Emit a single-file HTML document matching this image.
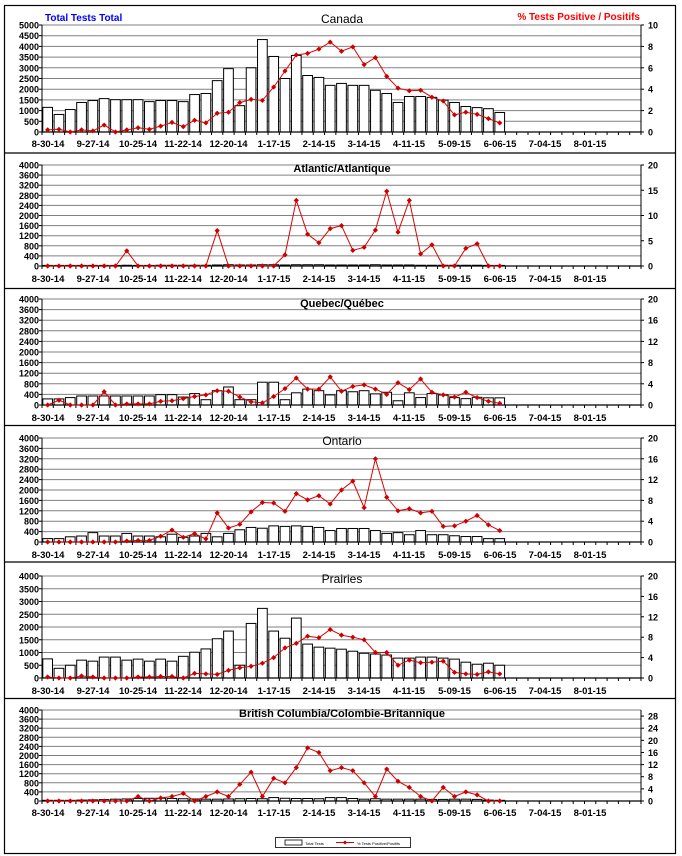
<!DOCTYPE html>
<html><head><meta charset="utf-8"><style>
html,body{margin:0;padding:0;background:#fff}
svg{display:block}
text{font-family:"Liberation Sans",Arial,sans-serif}
.yl{font-size:9px;font-weight:bold;text-anchor:end}
.yr{font-size:9px;font-weight:bold;text-anchor:start}
.xl{font-size:9.5px;font-weight:bold;text-anchor:middle}
.tt{font-size:12px;text-anchor:middle}
</style></head><body>
<svg id="s" width="682" height="856" viewBox="0 0 682 856" xmlns="http://www.w3.org/2000/svg">
<rect x="4.5" y="5.5" width="671" height="848" fill="#fff" stroke="#000" stroke-width="1.2"/>
<g stroke="#000" stroke-width="1.2">
<line x1="4" y1="153" x2="676" y2="153"/><line x1="4" y1="288.5" x2="676" y2="288.5"/>
<line x1="4" y1="425.5" x2="676" y2="425.5"/><line x1="4" y1="562" x2="676" y2="562"/>
<line x1="4" y1="698.5" x2="676" y2="698.5"/></g>
<g id="plots"></g>

<text x="45" y="21" style="font-size:10px;font-weight:bold" fill="#0000ff">Total Tests Total</text>
<text x="640" y="20" style="font-size:10px;font-weight:bold;text-anchor:end" fill="#ff0000">% Tests Positive / Positifs</text>
<text class="tt" x="342" y="23">Canada</text>
<text class="tt" x="342" y="172" style="font-weight:bold;font-size:11px">Atlantic/Atlantique</text>
<text class="tt" x="342" y="307" style="font-weight:bold;font-size:11px">Quebec/Québec</text>
<text class="tt" x="342" y="445">Ontario</text>
<text class="tt" x="342" y="583">Prairies</text>
<text class="tt" x="342" y="717" style="font-weight:bold;font-size:11px">British Columbia/Colombie-Britannique</text>

<!-- Canada y labels -->
<g class="yl">
<text class="yl" x="39" y="135.5">0</text><text class="yl" x="39" y="124.8">500</text><text class="yl" x="39" y="114.1">1000</text><text class="yl" x="39" y="103.4">1500</text><text class="yl" x="39" y="92.7">2000</text><text class="yl" x="39" y="82">2500</text><text class="yl" x="39" y="71.3">3000</text><text class="yl" x="39" y="60.6">3500</text><text class="yl" x="39" y="49.9">4000</text><text class="yl" x="39" y="39.2">4500</text><text class="yl" x="39" y="28.5">5000</text>
<text class="yr" x="648" y="135.5">0</text><text class="yr" x="648" y="114.1">2</text><text class="yr" x="648" y="92.7">4</text><text class="yr" x="648" y="71.3">6</text><text class="yr" x="648" y="49.9">8</text><text class="yr" x="648" y="28.5">10</text>
<!-- Atlantic -->
<text class="yl" x="39" y="269.5">0</text><text class="yl" x="39" y="259.4">400</text><text class="yl" x="39" y="249.3">800</text><text class="yl" x="39" y="239.2">1200</text><text class="yl" x="39" y="229.1">1600</text><text class="yl" x="39" y="219">2000</text><text class="yl" x="39" y="208.9">2400</text><text class="yl" x="39" y="198.8">2800</text><text class="yl" x="39" y="188.7">3200</text><text class="yl" x="39" y="178.6">3600</text><text class="yl" x="39" y="168.5">4000</text>
<text class="yr" x="648" y="269.5">0</text><text class="yr" x="648" y="244.25">5</text><text class="yr" x="648" y="219">10</text><text class="yr" x="648" y="193.75">15</text><text class="yr" x="648" y="168.5">20</text>
<!-- Quebec -->
<text class="yl" x="39" y="408.5">0</text><text class="yl" x="39" y="397.9">400</text><text class="yl" x="39" y="387.3">800</text><text class="yl" x="39" y="376.7">1200</text><text class="yl" x="39" y="366.1">1600</text><text class="yl" x="39" y="355.5">2000</text><text class="yl" x="39" y="344.9">2400</text><text class="yl" x="39" y="334.3">2800</text><text class="yl" x="39" y="323.7">3200</text><text class="yl" x="39" y="313.1">3600</text><text class="yl" x="39" y="302.5">4000</text>
<text class="yr" x="648" y="408.5">0</text><text class="yr" x="648" y="387.3">4</text><text class="yr" x="648" y="366.1">8</text><text class="yr" x="648" y="344.9">12</text><text class="yr" x="648" y="323.7">16</text><text class="yr" x="648" y="302.5">20</text>
<!-- Ontario -->
<text class="yl" x="39" y="545.5">0</text><text class="yl" x="39" y="535.1">400</text><text class="yl" x="39" y="524.7">800</text><text class="yl" x="39" y="514.3">1200</text><text class="yl" x="39" y="503.9">1600</text><text class="yl" x="39" y="493.5">2000</text><text class="yl" x="39" y="483.1">2400</text><text class="yl" x="39" y="472.7">2800</text><text class="yl" x="39" y="462.3">3200</text><text class="yl" x="39" y="451.9">3600</text><text class="yl" x="39" y="441.5">4000</text>
<text class="yr" x="648" y="545.5">0</text><text class="yr" x="648" y="524.7">4</text><text class="yr" x="648" y="503.9">8</text><text class="yr" x="648" y="483.1">12</text><text class="yr" x="648" y="462.3">16</text><text class="yr" x="648" y="441.5">20</text>
<!-- Prairies -->
<text class="yl" x="39" y="681.5">0</text><text class="yl" x="39" y="668.75">500</text><text class="yl" x="39" y="656">1000</text><text class="yl" x="39" y="643.25">1500</text><text class="yl" x="39" y="630.5">2000</text><text class="yl" x="39" y="617.75">2500</text><text class="yl" x="39" y="605">3000</text><text class="yl" x="39" y="592.25">3500</text><text class="yl" x="39" y="579.5">4000</text>
<text class="yr" x="648" y="681.5">0</text><text class="yr" x="648" y="661.1">4</text><text class="yr" x="648" y="640.7">8</text><text class="yr" x="648" y="620.3">12</text><text class="yr" x="648" y="599.9">16</text><text class="yr" x="648" y="579.5">20</text>
<!-- BC -->
<text class="yl" x="39" y="804.5">0</text><text class="yl" x="39" y="795.4">400</text><text class="yl" x="39" y="786.3">800</text><text class="yl" x="39" y="777.2">1200</text><text class="yl" x="39" y="768.1">1600</text><text class="yl" x="39" y="759">2000</text><text class="yl" x="39" y="749.9">2400</text><text class="yl" x="39" y="740.8">2800</text><text class="yl" x="39" y="731.7">3200</text><text class="yl" x="39" y="722.6">3600</text><text class="yl" x="39" y="713.5">4000</text>
<text class="yr" x="648" y="804.5">0</text><text class="yr" x="648" y="792.4">4</text><text class="yr" x="648" y="780.2">8</text><text class="yr" x="648" y="768.1">12</text><text class="yr" x="648" y="756">16</text><text class="yr" x="648" y="743.8">20</text><text class="yr" x="648" y="731.7">24</text><text class="yr" x="648" y="719.6">28</text>
</g>

<!-- x labels -->
<g class="xl">
<text class="xl" x="48" y="147">8-30-14</text><text class="xl" x="93" y="147">9-27-14</text><text class="xl" x="138" y="147">10-25-14</text><text class="xl" x="183" y="147">11-22-14</text><text class="xl" x="228.5" y="147">12-20-14</text><text class="xl" x="274" y="147">1-17-15</text><text class="xl" x="319" y="147">2-14-15</text><text class="xl" x="364" y="147">3-14-15</text><text class="xl" x="409" y="147">4-11-15</text><text class="xl" x="454.5" y="147">5-09-15</text><text class="xl" x="500" y="147">6-06-15</text><text class="xl" x="545" y="147">7-04-15</text><text class="xl" x="590" y="147">8-01-15</text>
<text class="xl" x="48" y="282">8-30-14</text><text class="xl" x="93" y="282">9-27-14</text><text class="xl" x="138" y="282">10-25-14</text><text class="xl" x="183" y="282">11-22-14</text><text class="xl" x="228.5" y="282">12-20-14</text><text class="xl" x="274" y="282">1-17-15</text><text class="xl" x="319" y="282">2-14-15</text><text class="xl" x="364" y="282">3-14-15</text><text class="xl" x="409" y="282">4-11-15</text><text class="xl" x="454.5" y="282">5-09-15</text><text class="xl" x="500" y="282">6-06-15</text><text class="xl" x="545" y="282">7-04-15</text><text class="xl" x="590" y="282">8-01-15</text>
<text class="xl" x="48" y="421">8-30-14</text><text class="xl" x="93" y="421">9-27-14</text><text class="xl" x="138" y="421">10-25-14</text><text class="xl" x="183" y="421">11-22-14</text><text class="xl" x="228.5" y="421">12-20-14</text><text class="xl" x="274" y="421">1-17-15</text><text class="xl" x="319" y="421">2-14-15</text><text class="xl" x="364" y="421">3-14-15</text><text class="xl" x="409" y="421">4-11-15</text><text class="xl" x="454.5" y="421">5-09-15</text><text class="xl" x="500" y="421">6-06-15</text><text class="xl" x="545" y="421">7-04-15</text><text class="xl" x="590" y="421">8-01-15</text>
<text class="xl" x="48" y="558">8-30-14</text><text class="xl" x="93" y="558">9-27-14</text><text class="xl" x="138" y="558">10-25-14</text><text class="xl" x="183" y="558">11-22-14</text><text class="xl" x="228.5" y="558">12-20-14</text><text class="xl" x="274" y="558">1-17-15</text><text class="xl" x="319" y="558">2-14-15</text><text class="xl" x="364" y="558">3-14-15</text><text class="xl" x="409" y="558">4-11-15</text><text class="xl" x="454.5" y="558">5-09-15</text><text class="xl" x="500" y="558">6-06-15</text><text class="xl" x="545" y="558">7-04-15</text><text class="xl" x="590" y="558">8-01-15</text>
<text class="xl" x="48" y="694">8-30-14</text><text class="xl" x="93" y="694">9-27-14</text><text class="xl" x="138" y="694">10-25-14</text><text class="xl" x="183" y="694">11-22-14</text><text class="xl" x="228.5" y="694">12-20-14</text><text class="xl" x="274" y="694">1-17-15</text><text class="xl" x="319" y="694">2-14-15</text><text class="xl" x="364" y="694">3-14-15</text><text class="xl" x="409" y="694">4-11-15</text><text class="xl" x="454.5" y="694">5-09-15</text><text class="xl" x="500" y="694">6-06-15</text><text class="xl" x="545" y="694">7-04-15</text><text class="xl" x="590" y="694">8-01-15</text>
<text class="xl" x="48" y="816">8-30-14</text><text class="xl" x="93" y="816">9-27-14</text><text class="xl" x="138" y="816">10-25-14</text><text class="xl" x="183" y="816">11-22-14</text><text class="xl" x="228.5" y="816">12-20-14</text><text class="xl" x="274" y="816">1-17-15</text><text class="xl" x="319" y="816">2-14-15</text><text class="xl" x="364" y="816">3-14-15</text><text class="xl" x="409" y="816">4-11-15</text><text class="xl" x="454.5" y="816">5-09-15</text><text class="xl" x="500" y="816">6-06-15</text><text class="xl" x="545" y="816">7-04-15</text><text class="xl" x="590" y="816">8-01-15</text>
</g>

<!-- legend -->
<rect x="275.5" y="837.5" width="135" height="10" fill="#fff" stroke="#000" stroke-width="0.8"/>
<rect x="285" y="840" width="17" height="5" fill="#fff" stroke="#000" stroke-width="0.8"/>
<text x="305" y="845" style="font-size:4px">Total Tests</text>
<line x1="336" y1="842.5" x2="354" y2="842.5" stroke="#d00" stroke-width="1"/>
<rect x="343.5" y="841" width="3" height="3" fill="#c00" transform="rotate(45 345 842.5)"/>
<text x="357" y="845" style="font-size:4px">% Tests Positive/Positifs</text>
</svg>
<script>
(function(){
var NS="http://www.w3.org/2000/svg",G=document.getElementById("plots");
function el(n,a){var e=document.createElementNS(NS,n);for(var k in a)e.setAttribute(k,a[k]);G.appendChild(e);return e;}
var L=42,R=641,N=53,W=(R-L)/N;
function panel(top,bot,lmax,lstep,rmax,rstep,bars,line){
 var h=bot-top;
 for(var v=lstep;v<=lmax+0.01;v+=lstep){var y=bot-v/lmax*h;el("line",{x1:L,x2:R,y1:y,y2:y,stroke:"#808080","stroke-width":1});}
 for(var i=0;i<bars.length;i++){var bh=bars[i]/lmax*h;if(bh<0.6)bh=0.6;
  el("rect",{x:L+i*W+0.8,y:bot-bh,width:W-1.6,height:bh,fill:"#fff",stroke:"#000","stroke-width":1});}
 el("line",{x1:L,x2:L,y1:top,y2:bot,stroke:"#000","stroke-width":1});
 el("line",{x1:R,x2:R,y1:top,y2:bot,stroke:"#000","stroke-width":1});
 el("line",{x1:L,x2:R,y1:bot,y2:bot,stroke:"#000","stroke-width":1.2});
 for(var v=0;v<=lmax+0.01;v+=lstep){var y=bot-v/lmax*h;el("line",{x1:L-3,x2:L,y1:y,y2:y,stroke:"#000"});}
 for(var v=0;v<=rmax+0.01;v+=rstep){var y=bot-v/rmax*h;el("line",{x1:R,x2:R+3,y1:y,y2:y,stroke:"#000"});}
 for(var i=0;i<=N;i++){var x=L+i*W;el("line",{x1:x,x2:x,y1:bot,y2:bot+3,stroke:"#000"});}
 var pts=[];for(var i=0;i<line.length;i++){pts.push((L+(i+0.5)*W).toFixed(1)+","+(bot-line[i]/rmax*h).toFixed(1));}
 el("polyline",{points:pts.join(" "),fill:"none",stroke:"#e00000","stroke-width":1});
 for(var i=0;i<line.length;i++){var x=L+(i+0.5)*W,y=bot-line[i]/rmax*h;
  el("polygon",{points:(x)+","+(y-2.6)+" "+(x+2.6)+","+y+" "+x+","+(y+2.6)+" "+(x-2.6)+","+y,fill:"#cc0000"});}
}
panel(25,132,5000,500,10,2,
[1150,820,1050,1380,1470,1560,1510,1510,1510,1420,1470,1470,1420,1750,1800,2400,2960,1230,3000,4320,3530,2500,3580,2640,2550,2180,2270,2180,2180,1950,1800,1380,1660,1660,1620,1490,1380,1190,1140,1090,910],
[0.2,0.25,0,0.2,0.1,0.65,0,0.2,0.4,0.25,0.55,0.9,0.5,1.1,0.85,1.75,1.85,2.75,3.05,2.95,4.2,5.7,7.2,7.35,7.75,8.4,7.55,7.95,6.3,6.95,5.2,4.1,3.85,3.9,3.25,2.9,1.6,1.85,1.65,1.25,0.85]);
panel(165,266,4000,400,20,5,
[20,20,20,20,20,20,20,30,20,20,30,30,30,30,30,40,50,40,40,50,50,40,50,50,50,40,40,40,40,50,40,40,40,30,30,30,30,30,30,20,20],
[0,0,0,0,0,0,0,3,0,0,0,0,0,0,0,7,0,0,0,0,0,2.2,13,6.3,4.6,7.4,8,3.1,3.7,7.1,14.8,6.7,13,2.4,4.2,0,0,3.5,4.4,0,0]);
panel(299,405,4000,400,20,4,
[230,230,280,340,340,340,340,340,340,340,390,390,300,430,200,540,680,200,200,860,860,200,460,600,540,380,540,500,540,420,480,160,460,280,430,380,280,240,290,270,270],
[0,0.9,0,0,0,2.5,0,0.2,0.2,0.2,0.7,0.8,1.2,1.6,1.9,2.7,2.6,1.5,0.6,0.4,1.6,3.1,5.1,3,3,5.3,2.6,3.5,3.8,3,2,4.2,2.9,4.9,2.4,1.9,1.5,2.4,1.4,0.7,0.3]);
panel(438,542,4000,400,20,4,
[130,130,200,230,360,230,230,330,230,230,200,300,180,230,330,200,330,470,560,530,620,600,620,600,560,440,520,520,520,440,330,360,280,440,280,280,240,210,210,130,130],
[0,0,0,0,0,0,0,0.2,0.3,0.3,1.1,2.3,0.9,1.6,0.6,5.6,2.7,3.4,5.8,7.6,7.5,5.9,9.3,8.1,8.9,7.3,10,11.7,6.6,16,8.6,6,6.4,5.6,5.9,3,3.1,4,5.1,3.3,2.2]);
panel(576,678,4000,500,20,4,
[750,380,500,700,660,820,820,700,740,660,740,660,850,1010,1140,1540,1840,500,2140,2730,1840,1560,2350,1330,1210,1170,1130,1050,970,940,900,780,780,820,820,780,740,620,540,580,500],
[0.2,0,0,0.4,0.2,0,0,0,0.2,0.2,0.3,0.3,0,0.9,0.8,0.7,1.5,2,2.3,2.9,4,5.9,6.8,8.2,7.9,9.5,8.4,8,7.5,5,5,2.5,3.5,3,3.1,3.3,1.1,0.8,0.7,1.2,0.8]);
panel(710,801,4000,400,30,4,
[30,30,30,40,50,60,80,90,110,120,120,110,100,90,80,80,90,100,110,100,150,120,110,110,100,150,150,110,80,100,80,80,80,80,70,70,80,80,70,40,30],
[0,0,0,0,0,0,0,0,1.5,0,1,1.5,2.5,0,1.5,3,1.5,5.5,9.5,1.5,7.5,6,11,17.5,16,10,11,10,6,1.5,10.5,6.5,4.5,1.5,0,4.5,1.5,3,2,0,0]);
})();
</script>
</body></html>
